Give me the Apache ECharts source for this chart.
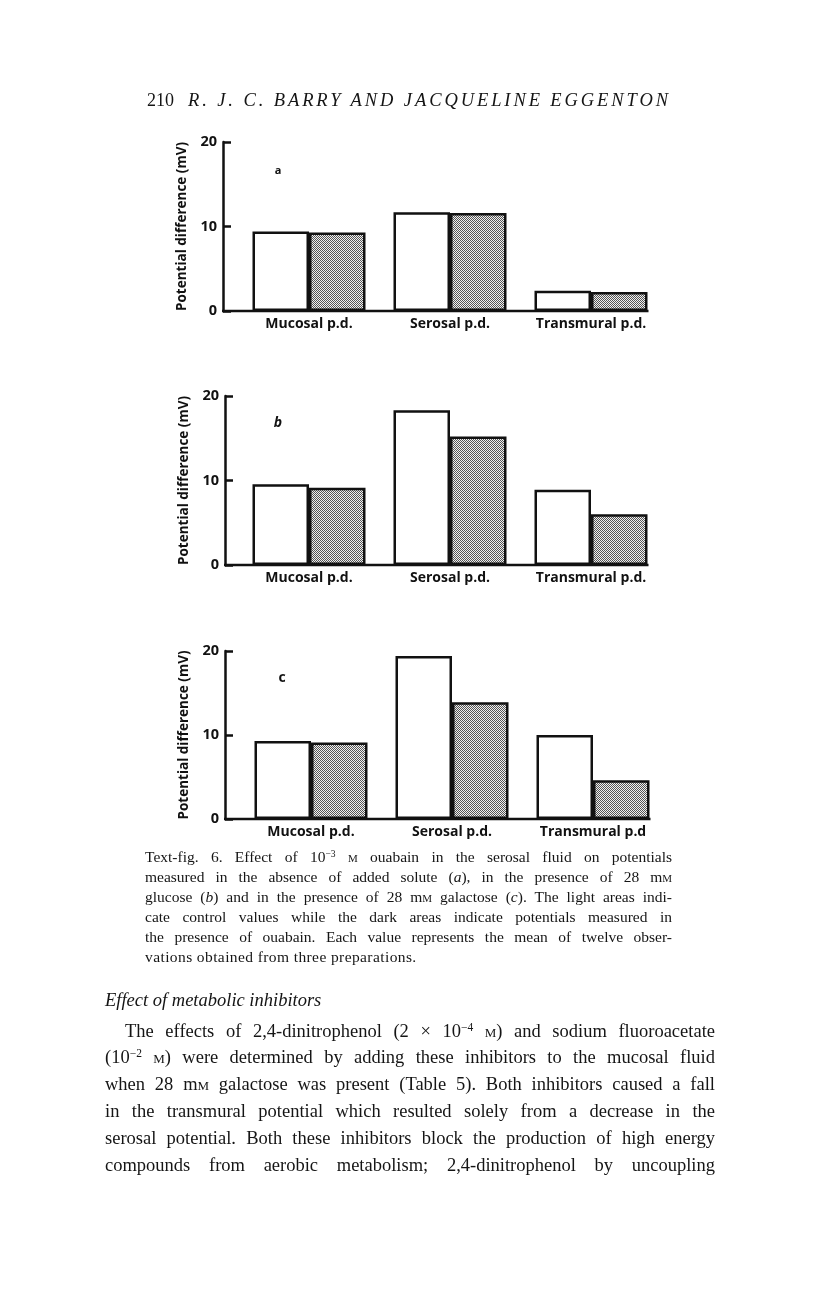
<!DOCTYPE html>
<html><head><meta charset="utf-8">
<script src="https://cdn.jsdelivr.net/npm/echarts/dist/echarts.min.js"></script>
<style>
body{margin:0;background:#fff;}
#page{position:relative;width:816px;height:1296px;overflow:hidden;background:#fff;}
#chart{position:absolute;left:0;top:0;width:816px;height:1296px;}
.t{position:absolute;white-space:nowrap;color:#151515;z-index:2;}
.cap{font-family:'Liberation Serif';font-size:15.5px;line-height:20px;left:145px;}
.body{font-family:'Liberation Serif';font-size:18.5px;line-height:26px;}
.sup{font-size:0.62em;position:relative;top:-0.5em;}
.sc{font-variant:small-caps;}
</style>
</head><body>
<div id="page">
<div id="chart"></div>
<div class="t" style="left:147px;top:89px;font:18px/22px 'Liberation Serif';">210</div>
<div class="t fitL" data-w="480" style="left:188px;top:89px;font:italic 18.5px/22px 'Liberation Serif';">R. J. C. BARRY AND JACQUELINE EGGENTON</div>

<div class="t cap fitW" data-w="527" style="top:847px;">Text-fig. 6. Effect of 10<span class="sup">−3</span> <span class="sc">m</span> ouabain in the serosal fluid on potentials</div>
<div class="t cap fitW" data-w="527" style="top:867px;">measured in the absence of added solute (<i>a</i>), in the presence of 28 m<span class="sc">m</span></div>
<div class="t cap fitW" data-w="527" style="top:887px;">glucose (<i>b</i>) and in the presence of 28 m<span class="sc">m</span> galactose (<i>c</i>). The light areas indi-</div>
<div class="t cap fitW" data-w="527" style="top:907px;">cate control values while the dark areas indicate potentials measured in</div>
<div class="t cap fitW" data-w="527" style="top:927px;">the presence of ouabain. Each value represents the mean of twelve obser-</div>
<div class="t cap" style="top:947px;letter-spacing:0.4px;">vations obtained from three preparations.</div>

<div class="t body" style="left:105px;top:987px;font-style:italic;">Effect of metabolic inhibitors</div>
<div class="t body fitW" data-w="590" style="left:125px;top:1018px;">The effects of 2,4-dinitrophenol (2 × 10<span class="sup">−4</span> <span class="sc">m</span>) and sodium fluoroacetate</div>
<div class="t body fitW" data-w="610" style="left:105px;top:1044px;">(10<span class="sup">−2</span> <span class="sc">m</span>) were determined by adding these inhibitors to the mucosal fluid</div>
<div class="t body fitW" data-w="610" style="left:105px;top:1071px;">when 28 m<span class="sc">m</span> galactose was present (Table 5). Both inhibitors caused a fall</div>
<div class="t body fitW" data-w="610" style="left:105px;top:1098px;">in the transmural potential which resulted solely from a decrease in the</div>
<div class="t body fitW" data-w="610" style="left:105px;top:1125px;">serosal potential. Both these inhibitors block the production of high energy</div>
<div class="t body fitW" data-w="610" style="left:105px;top:1152px;">compounds from aerobic metabolism; 2,4-dinitrophenol by uncoupling</div>
</div>
<script>
// ---- data ----
const categoriesAB = ['Mucosal p.d.', 'Serosal p.d.', 'Transmural p.d.'];
const categoriesC = ['Mucosal p.d.', 'Serosal p.d.', 'Transmural p.d'];
const controlA = [9.4, 11.7, 2.4];
const ouabainA = [9.3, 11.6, 2.25];
const controlB = [9.55, 18.3, 8.9];
const ouabainB = [9.15, 15.2, 6.0];
const controlC = [9.3, 19.4, 10.0];
const ouabainC = [9.1, 13.9, 4.6];
const yMin = 0, yMax = 20, yStep = 10;
const panelLetters = ['a', 'b', 'c'];
const yName = 'Potential difference (mV)';

// ---- layout ----
const grids = [
  {left: 238.5, top: 142, width: 423, height: 169},
  {left: 238.5, top: 396, width: 423, height: 169},
  {left: 240.5, top: 651, width: 423, height: 168}
];
const axisX = [223, 225, 225];
const letterPos = [[278, 171, 'normal', 11], [278, 423, 'italic', 14], [282, 678, 'normal', 14]];
const barW = 56.5;
const ink = '#111';

const cats = [categoriesAB, categoriesAB, categoriesC];
const ctrl = [controlA, controlB, controlC];
const oua = [ouabainA, ouabainB, ouabainC];

function makePattern() {
  const c = document.createElement('canvas');
  c.width = 2; c.height = 2;
  const g = c.getContext('2d');
  g.fillStyle = '#f0f0f0'; g.fillRect(0, 0, 2, 2);
  g.fillStyle = '#555555'; g.fillRect(0, 0, 1, 1); g.fillRect(1, 1, 1, 1);
  return c;
}
const pattern = {image: makePattern(), repeat: 'repeat'};
const lblFont = {fontFamily: 'Open Sans', fontWeight: 'bold', color: ink};

const chart = echarts.init(document.getElementById('chart'), null, {renderer: 'canvas'});
const option = {
  animation: false,
  backgroundColor: 'transparent',
  grid: grids.map(g => Object.assign({containLabel: false}, g)),
  xAxis: grids.map((g, i) => ({
    type: 'category', gridIndex: i, data: cats[i],
    axisLine: {show: false}, axisTick: {show: false}, splitLine: {show: false},
    axisLabel: Object.assign({fontSize: 14, margin: 6, interval: 0}, lblFont)
  })),
  yAxis: grids.map((g, i) => ({
    type: 'value', gridIndex: i, min: yMin, max: yMax, interval: yStep,
    offset: g.left - axisX[i],
    axisLine: {show: true, lineStyle: {color: ink, width: 2.5}},
    axisTick: {show: true, inside: true, length: 8, lineStyle: {color: ink, width: 2.5}},
    splitLine: {show: false},
    axisLabel: Object.assign({fontSize: 14.5, margin: 6}, lblFont),
    name: yName, nameLocation: 'middle', nameGap: 27,
    nameTextStyle: Object.assign({fontSize: 13.5}, lblFont)
  })),
  series: []
};
grids.forEach((g, i) => {
  option.series.push({
    type: 'bar', name: 'Control', xAxisIndex: i, yAxisIndex: i, data: ctrl[i],
    barWidth: barW, barGap: '0%', silent: true,
    itemStyle: {color: '#ffffff', borderColor: ink, borderWidth: 2.5}
  });
  option.series.push({
    type: 'bar', name: 'Ouabain', xAxisIndex: i, yAxisIndex: i, data: oua[i],
    barWidth: barW, barGap: '0%', silent: true,
    itemStyle: {color: pattern, borderColor: ink, borderWidth: 2.5}
  });
});
chart.setOption(option);

const graphics = [];
grids.forEach((g, i) => {
  const y0 = chart.convertToPixel({yAxisIndex: i}, yMin);
  const xr = chart.convertToPixel({xAxisIndex: i}, cats[i][cats[i].length - 1]) + barW + 1;
  graphics.push({type: 'line', z: 10, shape: {x1: axisX[i] - 1, y1: y0, x2: xr, y2: y0},
    style: {stroke: ink, lineWidth: 2.5}, silent: true});
  const lp = letterPos[i];
  graphics.push({type: 'text', z: 10, x: lp[0], y: lp[1], silent: true,
    style: {text: panelLetters[i], fontFamily: 'Open Sans', fontWeight: 'bold', fontStyle: lp[2],
      fontSize: lp[3], fill: ink, align: 'center', verticalAlign: 'middle'}});
});
chart.setOption({graphic: graphics});

// ---- justify text lines ----
function fitAll() {
  document.querySelectorAll('.fitW').forEach(el => {
    el.style.wordSpacing = '0px';
    const w = el.getBoundingClientRect().width;
    const n = (el.textContent.match(/ /g) || []).length;
    const target = +el.dataset.w;
    if (n > 0) el.style.wordSpacing = ((target - w) / n) + 'px';
  });
  document.querySelectorAll('.fitL').forEach(el => {
    el.style.letterSpacing = '0px';
    const w = el.getBoundingClientRect().width;
    const n = el.textContent.length - 1;
    el.style.letterSpacing = ((+el.dataset.w - w) / n) + 'px';
  });
}
fitAll();
if (document.fonts && document.fonts.ready) document.fonts.ready.then(fitAll);
</script>
</body></html>
